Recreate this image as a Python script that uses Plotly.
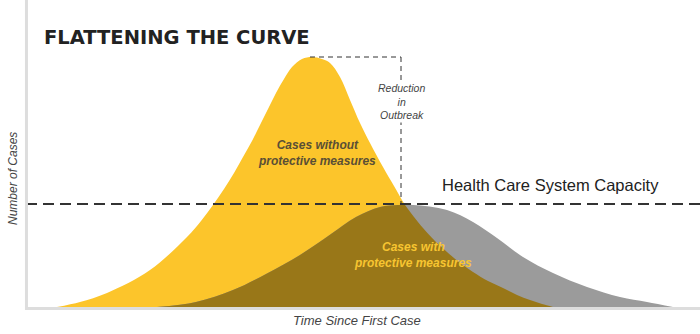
import plotly.graph_objects as go

# Curve without protective measures (time, cases)
unprotected_t = [31, 54, 81, 124, 161, 175, 187, 198, 208, 217, 226, 234, 242, 250, 258, 266, 276, 286, 296, 304, 314, 324, 334, 344, 357, 368, 379, 388, 397, 409, 421, 434, 447, 462, 477, 491, 504, 516, 527]
unprotected_c = [0, 5, 14, 37, 70, 86, 102, 118, 134, 150, 166, 182, 198, 214, 228, 240, 248, 250, 248, 244, 230, 207, 184, 164, 140, 121, 102, 90, 79, 66, 55, 44, 35, 26, 19, 12, 7, 3, 0]

# Flattened curve with protective measures
protected_t = [131, 170, 207, 240, 274, 305, 330, 354, 372, 387, 421, 447, 471, 497, 527, 561, 594, 621, 647]
protected_c = [0, 5, 17, 33, 52, 73, 90, 100, 102, 102, 97, 85, 69, 50, 34, 20, 10, 5, 0]

# Overlap of both curves: rising part (flattened curve) and falling part (unprotected curve)
overlap_rise_t = [131, 170, 207, 240, 274, 305, 330, 354, 372, 379]
overlap_rise_c = [0, 5, 17, 33, 52, 73, 90, 100, 102, 102]
overlap_fall_t = [379, 388, 397, 409, 421, 434, 447, 462, 477, 491, 504, 516, 527]
overlap_fall_c = [102, 90, 79, 66, 55, 44, 35, 26, 19, 12, 7, 3, 0]

capacity = 103
peak_unprotected = 250
reduction_t = [284, 375]

YELLOW = "#fcc52b"
GRAY = "#9b9b9b"
BROWN = "#997718"
FONT = "Liberation Sans"


def area(t, c, color):
    return go.Scatter(x=t, y=c, mode="lines", line=dict(width=0, shape="spline", color=color),
                      fill="tozeroy", fillcolor=color, hoverinfo="skip")


fig = go.Figure()
fig.add_trace(area(unprotected_t, unprotected_c, YELLOW))
fig.add_trace(area(protected_t, protected_c, GRAY))
fig.add_trace(area(overlap_rise_t, overlap_rise_c, BROWN))
fig.add_trace(area(overlap_fall_t, overlap_fall_c, BROWN))

shapes = [
    dict(type="line", xref="x", yref="y", x0=0, x1=674, y0=capacity, y1=capacity,
         line=dict(color="#333333", width=2, dash="11px,6px")),
    dict(type="line", xref="x", yref="y", x0=reduction_t[0], x1=reduction_t[1], y0=peak_unprotected, y1=peak_unprotected,
         line=dict(color="#333333", width=1, dash="5px,4px")),
    dict(type="line", xref="x", yref="y", x0=reduction_t[1], x1=reduction_t[1], y0=peak_unprotected, y1=capacity,
         line=dict(color="#333333", width=1, dash="5px,4px")),
    dict(type="line", xref="paper", yref="paper", x0=0.0007, x1=0.0007, y0=-0.01, y1=1,
         line=dict(color="#dddddd", width=3)),
    dict(type="line", xref="paper", yref="paper", x0=0, x1=1, y0=-0.005, y1=-0.005,
         line=dict(color="#dddddd", width=3)),
]

annotations = [
    dict(x=16, y=270, xref="x", yref="y", text="<b>FLATTENING THE CURVE</b>", showarrow=False, xanchor="left",
         font=dict(family="DejaVu Sans", size=19.5, color="#222222")),
    dict(x=524, y=122, xref="x", yref="y", text="Health Care System Capacity", showarrow=False,
         font=dict(family=FONT, size=16.5, color="#222222")),
    dict(x=375, y=206, xref="x", yref="y", text="Reduction<br>in<br>Outbreak", showarrow=False, bgcolor="white",
         font=dict(family=FONT, size=10.5, color="#444444", style="italic")),
    dict(x=291, y=154, xref="x", yref="y", text="Cases without<br>protective measures", showarrow=False,
         font=dict(family=FONT, size=12, color="#5a4f35", style="italic", weight="bold")),
    dict(x=387, y=52, xref="x", yref="y", text="Cases with<br>protective measures", showarrow=False,
         font=dict(family=FONT, size=12, color="#f7c531", style="italic", weight="bold")),
    dict(x=-13 / 674, y=128 / 307, xref="paper", yref="paper", text="Number of Cases", showarrow=False, textangle=-90,
         xanchor="center", yanchor="middle",
         font=dict(family=FONT, size=12, color="#444444", style="italic")),
    dict(x=331 / 674, y=-13 / 307, xref="paper", yref="paper", text="Time Since First Case", showarrow=False,
         xanchor="center", yanchor="middle",
         font=dict(family=FONT, size=13, color="#444444", style="italic")),
]

fig.update_layout(
    width=700, height=334, margin=dict(l=26, r=0, t=0, b=27),
    paper_bgcolor="white", plot_bgcolor="white", showlegend=False,
    shapes=shapes, annotations=annotations,
    xaxis=dict(range=[0, 674], showgrid=False, zeroline=False, showticklabels=False, ticks=""),
    yaxis=dict(range=[0, 307], showgrid=False, zeroline=False, showticklabels=False, ticks=""),
)

fig.write_html("out.html", config={"displayModeBar": False})
